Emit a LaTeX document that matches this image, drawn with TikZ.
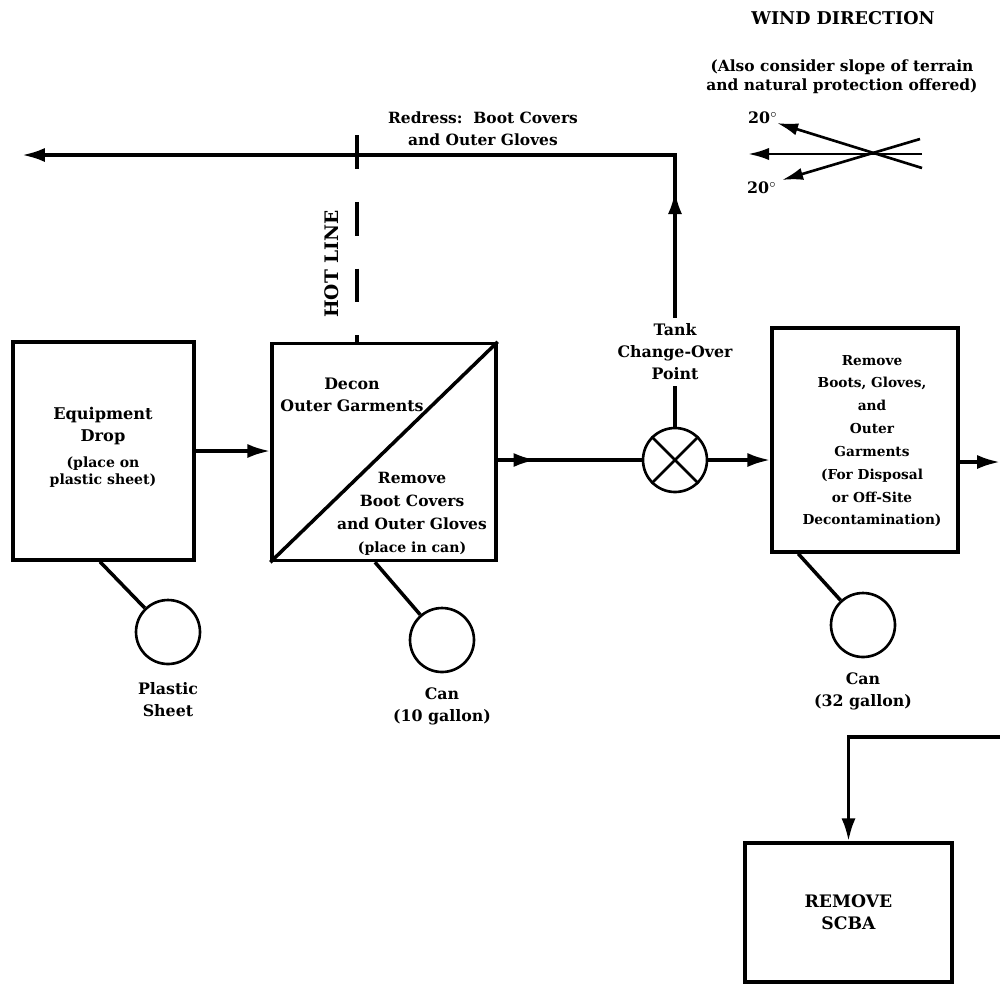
\documentclass[tikz,border=0pt]{standalone}
\usepackage{fontspec}
\setmainfont{DejaVu Serif}
\usetikzlibrary{arrows.meta, decorations.markings}

\begin{document}
\begin{tikzpicture}[
    x=0.02cm, y=-0.02cm,
    box/.style={draw, line width=2pt, inner sep=0pt},
    can/.style={circle, draw, line width=1.5pt, minimum size=1.28cm, inner sep=0pt},
    edge/.style={draw, line width=2pt},
    flow/.style={edge, -{Latex[length=13pt,width=8pt]}},
    windflow/.style={draw, line width=1.5pt, -{Latex[length=12pt,width=7pt]}},
    midflow/.style={edge, postaction={decorate},
        decoration={markings, mark=at position #1 with {\arrow{Latex[length=13pt,width=8pt]}}}},
    hotline/.style={draw, line width=2pt, dash pattern=on 19.3pt off 18.7pt},
    txt/.style={align=center, font=\fontsize{9}{12.5}\selectfont\bfseries},
    small/.style={align=center, font=\fontsize{8}{10}\selectfont\bfseries}
]
\useasboundingbox (0,0) rectangle (1000,985);

% process boxes
\node[box, minimum width=3.62cm, minimum height=4.36cm] (drop) at (103.5,451) {};
\node[txt, font=\fontsize{9.2}{12.5}\selectfont\bfseries] (droptxt) at (103,426) {Equipment\\Drop};
\node[small] (dropnote) at (103,472) {(place on\\plastic sheet)};

\node[box, minimum width=4.48cm, minimum height=4.34cm] (decon) at (384,452) {};
\draw[edge] (decon.south west) -- (decon.north east);
\node[txt] (decontop) at (352,395) {Decon\\Outer Garments};
\node[txt, font=\fontsize{8.8}{13}\selectfont\bfseries] (deconbot) at (412,514)
    {Remove\\Boot Covers\\and Outer Gloves\\{\fontsize{8}{10}\selectfont(place in can)}};

\node[box, minimum width=3.72cm, minimum height=4.48cm] (remove) at (865,440) {};
\node[align=center, font=\fontsize{7.8}{13}\selectfont\bfseries] (removetxt) at (872,441)
    {Remove\\Boots, Gloves,\\and\\Outer\\Garments\\(For Disposal\\or Off-Site\\Decontamination)};

\node[box, minimum width=4.14cm, minimum height=2.78cm, align=center,
    font=\fontsize{9.8}{12.5}\selectfont\bfseries] (scba) at (848.5,912.5) {REMOVE\\SCBA};

% cans and sheet
\node[can] (sheet) at (168,632) {};
\node[can] (canten) at (442,640) {};
\node[can] (canbig) at (863,625) {};
\node[txt] (sheetlbl) at (168,700) {Plastic\\Sheet};
\node[txt] (cantenlbl) at (442,706) {Can\\(10 gallon)};
\node[txt] (canbiglbl) at (863,691) {Can\\(32 gallon)};

\draw[edge] ([xshift=-0.07cm]drop.south) -- (sheet);
\draw[edge] ([xshift=-0.18cm]decon.south) -- (canten);
\draw[edge] ([xshift=0.56cm]remove.south west) -- (canbig);

% tank change-over point
\node[can] (tank) at (675,460) {};
\draw[edge, line width=1.5pt] (tank.45) -- (tank.225) (tank.135) -- (tank.315);
\node[txt] (tanklbl) at (675,352) {Tank\\Change-Over\\Point};

% main flow
\coordinate (out) at (1000,462);
\coordinate (back) at (1000,737);
\draw[flow] (drop.east) -- (drop.east -| decon.west);
\draw[midflow=22pt] (decon.east |- tank) -- (tank.west);
\draw[flow] (tank.east) -- (tank -| remove.west);
\draw[flow] (remove.east |- out) -- (out);
\draw[flow] (back) -| (scba.north);

% redress route
\coordinate (redressend) at (22,155);
\node[txt, font=\fontsize{8.8}{12.5}\selectfont\bfseries] (redress) at (483,129) {Redress:\ \ Boot Covers\\and Outer Gloves};
\draw[edge] (tank.north) -- (tanklbl.south);
\draw[midflow=72pt, -{Latex[length=13pt,width=8pt]}] (tanklbl.north) |- (redressend);

% hot line
\coordinate (hottop) at (357,135);
\draw[hotline] (hottop) -- (hottop |- decon.north);
\node[rotate=90, font=\fontsize{10.6}{12}\selectfont\bfseries] (hotlbl) at (332,264) {HOT LINE};

% wind direction
\node[font=\fontsize{10}{12}\selectfont\bfseries] (wind) at (843,18) {WIND DIRECTION};
\node[align=center, font=\fontsize{8.8}{11}\selectfont\bfseries] (windnote) at (842,77)
    {(Also consider slope of terrain\\and natural protection offered)};
\coordinate (w0) at (922,154);
\coordinate (w1) at (748,154);
\coordinate (w2) at (922,168);
\coordinate (w3) at (777,123);
\coordinate (w4) at (920,139);
\coordinate (w5) at (782,180);
\draw[windflow] (w0) -- (w1);
\draw[windflow] (w2) -- (w3);
\draw[windflow] (w4) -- (w5);
\node[txt] (upangle) at (763,118) {20$^\circ$};
\node[txt] (lowangle) at (762,188) {20$^\circ$};

\end{tikzpicture}
\end{document}
